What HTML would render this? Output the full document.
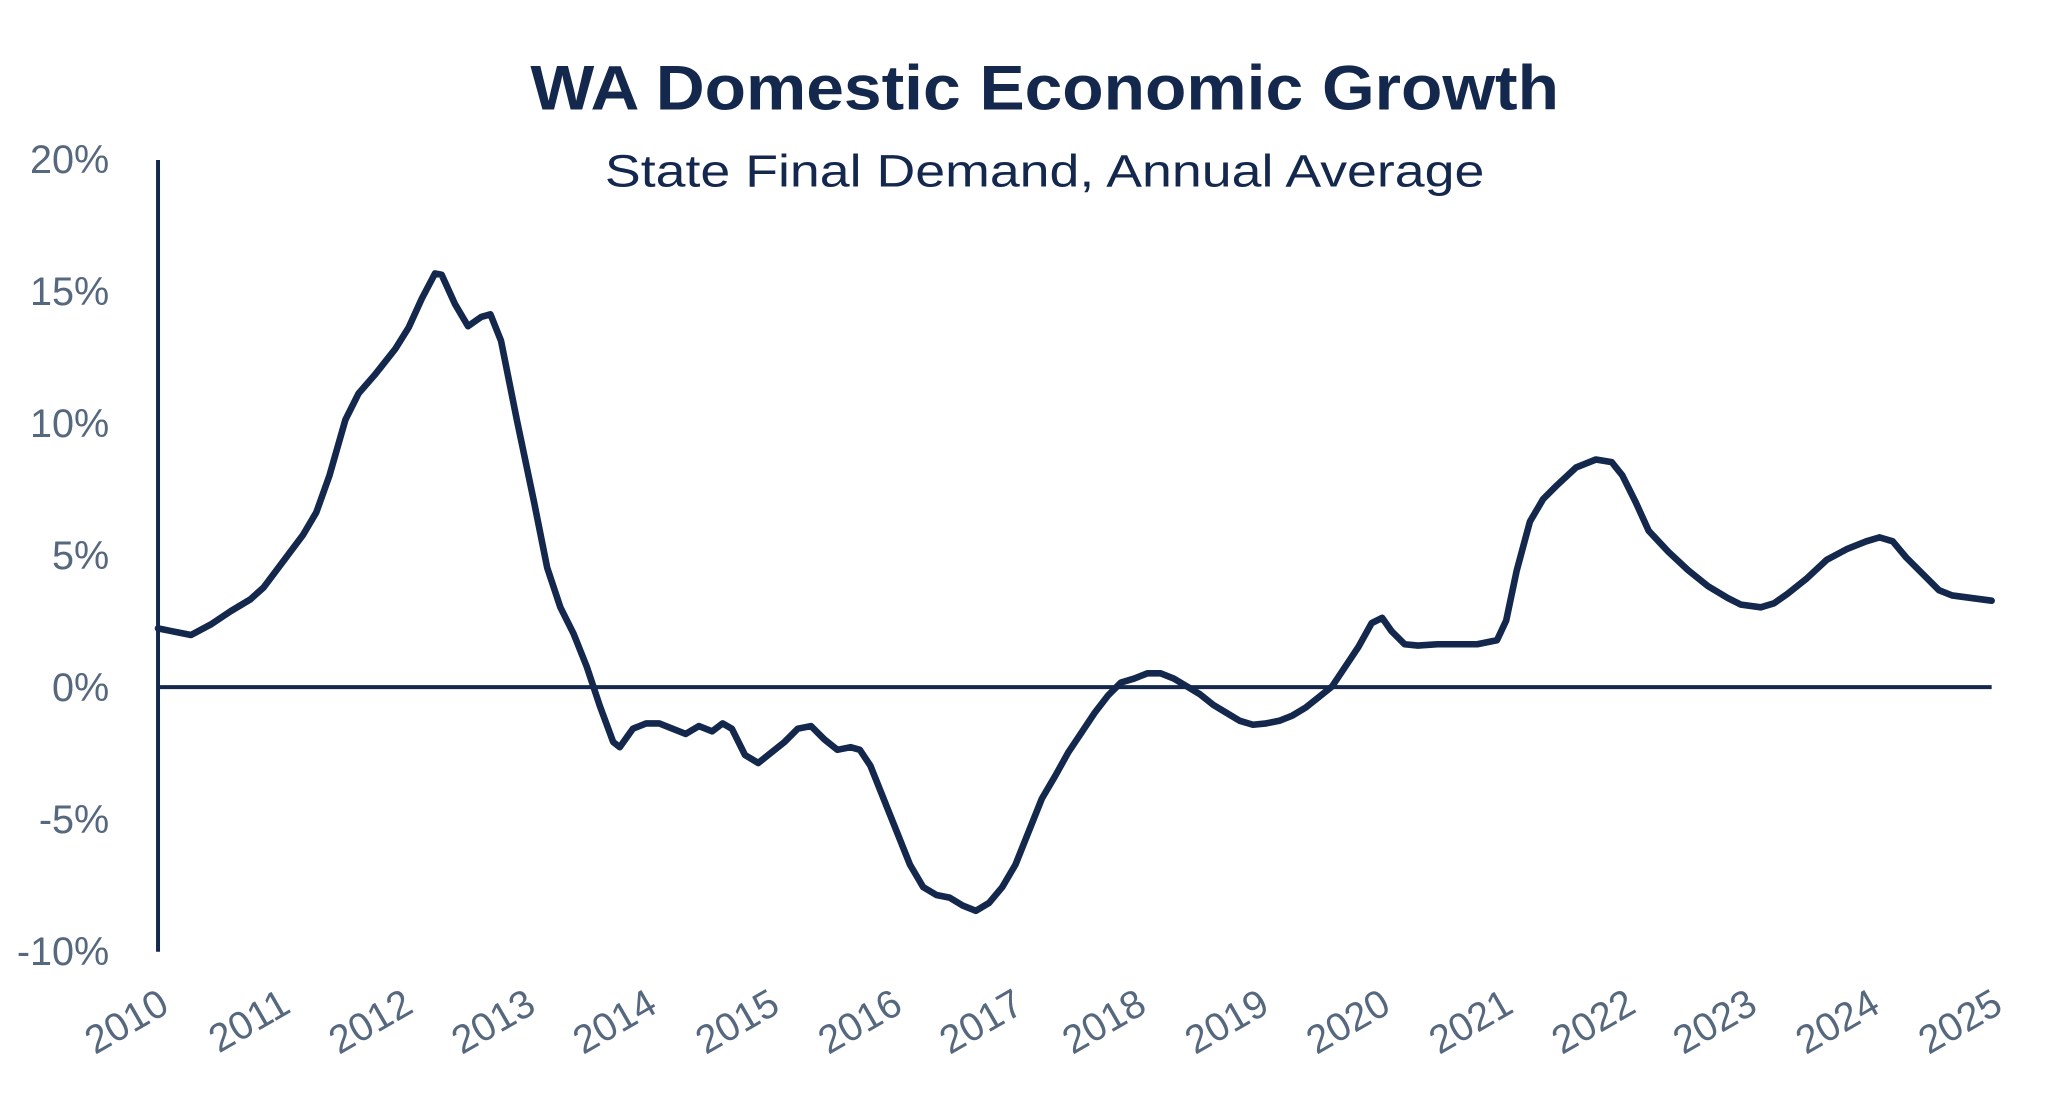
<!DOCTYPE html>
<html><head><meta charset="utf-8"><style>html,body{margin:0;padding:0;background:#fff;}svg{display:block;}</style></head>
<body>
<svg width="2068" height="1097" viewBox="0 0 1552 823" preserveAspectRatio="none" xmlns="http://www.w3.org/2000/svg">
<rect width="1552" height="823" fill="#fff"/>
<text x="784" y="82" text-anchor="middle" font-family="Liberation Sans, sans-serif" font-weight="bold" font-size="47" fill="#13284c" textLength="772" lengthAdjust="spacingAndGlyphs">WA Domestic Economic Growth</text>
<text x="784" y="140" text-anchor="middle" font-family="Liberation Sans, sans-serif" font-size="34" fill="#13284c" textLength="660" lengthAdjust="spacingAndGlyphs">State Final Demand, Annual Average</text>
<g transform="translate(118.6,120) scale(0.99) translate(-120,-121)">
<g font-family="Liberation Sans, sans-serif" font-size="30" fill="#56687e" text-anchor="end">
<text x="83" y="131">20%</text>
<text x="83" y="231">15%</text>
<text x="83" y="331">10%</text>
<text x="83" y="431">5%</text>
<text x="83" y="531">0%</text>
<text x="83" y="631">-5%</text>
<text x="83" y="731">-10%</text>
</g>
<g font-family="Liberation Sans, sans-serif" font-size="30" fill="#56687e" text-anchor="end">
<text transform="translate(130,766) rotate(-30)">2010</text>
<text transform="translate(222,766) rotate(-30)">2011</text>
<text transform="translate(315,766) rotate(-30)">2012</text>
<text transform="translate(408,766) rotate(-30)">2013</text>
<text transform="translate(500,766) rotate(-30)">2014</text>
<text transform="translate(593,766) rotate(-30)">2015</text>
<text transform="translate(686,766) rotate(-30)">2016</text>
<text transform="translate(778,766) rotate(-30)">2017</text>
<text transform="translate(871,766) rotate(-30)">2018</text>
<text transform="translate(964,766) rotate(-30)">2019</text>
<text transform="translate(1056,766) rotate(-30)">2020</text>
<text transform="translate(1149,766) rotate(-30)">2021</text>
<text transform="translate(1242,766) rotate(-30)">2022</text>
<text transform="translate(1334,766) rotate(-30)">2023</text>
<text transform="translate(1427,766) rotate(-30)">2024</text>
<text transform="translate(1520,766) rotate(-30)">2025</text>
</g>
<line x1="120" y1="121" x2="120" y2="721" stroke="#13284c" stroke-width="3"/>
<line x1="120" y1="520.5" x2="1510" y2="520.5" stroke="#13284c" stroke-width="3"/>
<polyline fill="none" stroke="#13284c" stroke-width="5" stroke-linejoin="round" stroke-linecap="round" points="120,476 130,478 145,481 160,473 175,463 190,454 200,445 215,425 230,405 240,388 250,360 262,318 272,298 285,283 300,264 310,248 320,226 330,207 335,208 345,230 355,247 365,240 372,238 380,258 392,318 405,380 415,430 425,460 435,480 445,505 455,535 465,562 470,566 480,552 490,548 500,548 510,552 520,556 530,550 540,554 548,548 555,552 565,572 575,578 585,570 595,562 605,552 615,550 625,560 635,568 645,566 652,568 660,580 670,605 680,630 690,655 700,672 710,678 720,680 730,686 740,690 750,684 760,672 770,655 780,630 790,605 800,588 810,570 820,555 830,540 840,527 850,517 860,514 870,510 880,510 890,514 900,520 910,526 920,534 930,540 940,546 950,549 960,548 970,546 980,542 990,536 1000,528 1010,520 1020,505 1030,490 1040,472 1048,468 1055,478 1065,488 1075,489 1090,488 1105,488 1120,488 1135,485 1142,470 1150,432 1160,395 1170,378 1180,368 1195,354 1210,348 1222,350 1230,360 1240,380 1250,402 1265,418 1280,432 1295,444 1310,453 1320,458 1335,460 1345,457 1355,450 1370,438 1385,424 1400,416 1415,410 1425,407 1435,410 1445,422 1460,437 1470,447 1480,451 1495,453 1510,455"/>
</g>
</svg>
</body></html>
